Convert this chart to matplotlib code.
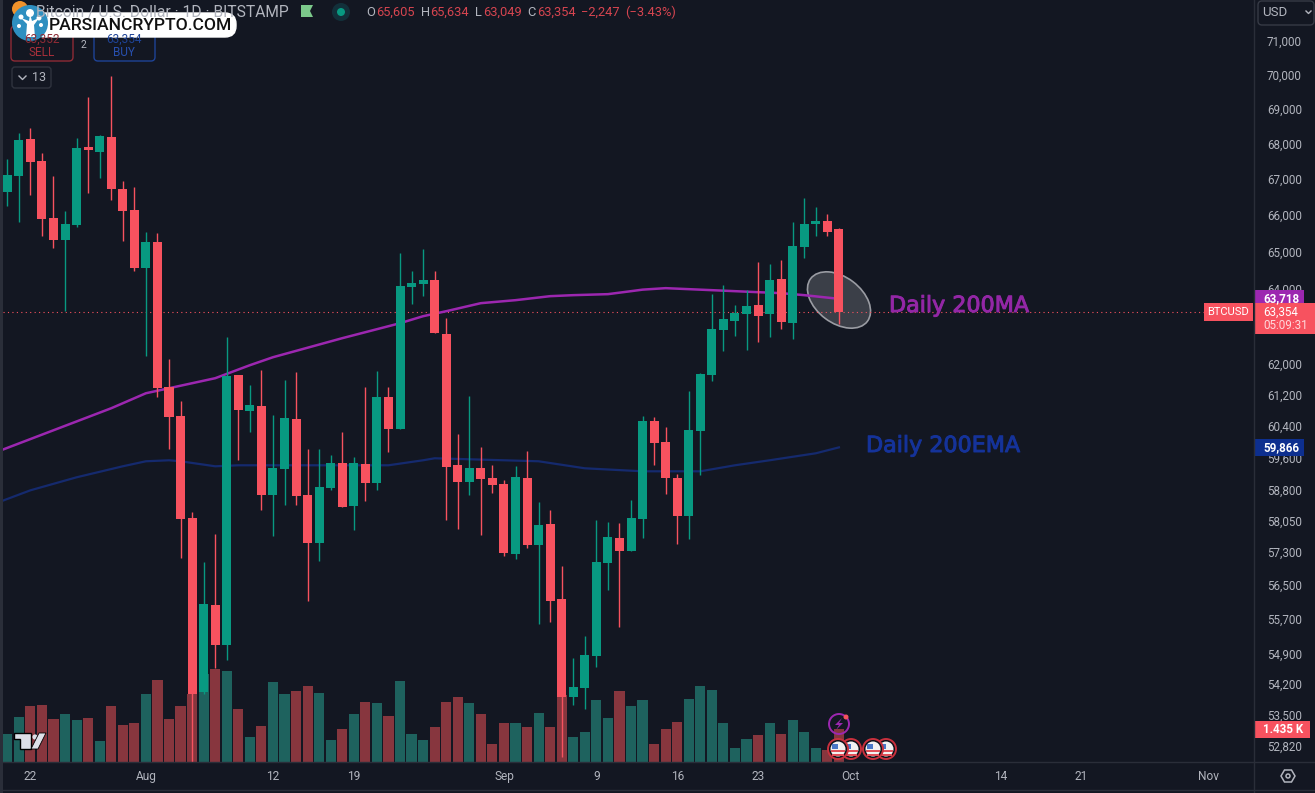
import matplotlib
matplotlib.use('Agg')
import matplotlib.pyplot as plt
import matplotlib.patheffects as pe
from matplotlib.patches import Circle, Ellipse, FancyBboxPatch, Polygon, Rectangle
from matplotlib.transforms import IdentityTransform

plt.rcParams['font.family'] = ['Roboto', 'DejaVu Sans']

# data (BTCUSD daily, 20 Jul - 30 Sep)
opens = [66640, 67090, 68140, 67510, 65910, 65310, 65720, 67910, 67770, 68190, 66720, 66140, 64540,
         65250, 61400, 60650, 58110, 54020, 56030, 55090, 61710, 60780, 60910, 58670, 59320, 60580,
         58670, 57500, 58850, 59470, 58400, 59440, 58970, 61140, 60320, 64030, 64110, 64220, 62780,
         59420, 59000, 59340, 59100, 58950, 57240, 59100, 57460, 57960, 56170, 53900, 54110, 54840,
         57020, 57620, 57310, 58090, 60530, 59990, 59100, 58160, 60270, 61710, 62890, 63120, 63310,
         63550, 63310, 64250, 63070, 65120, 65750, 65830, 65605]
highs = [67570, 68310, 68450, 67740, 67090, 66110, 68170, 69350, 68250, 69960, 66950, 66780, 65530,
         65500, 62120, 61040, 58260, 57050, 57720, 62700, 61710, 61450, 61840, 60680, 61580, 61790,
         59820, 59820, 59670, 60250, 59620, 61400, 61810, 61400, 64950, 64460, 65060, 64460, 63200,
         60200, 61160, 59870, 59420, 59050, 59390, 59770, 58500, 58310, 56970, 54810, 55300, 58060,
         58010, 57990, 58550, 60650, 60630, 60370, 59190, 61290, 61760, 63840, 64080, 63550, 63950,
         64710, 64650, 64760, 65800, 66470, 66220, 66020, 65634]
lows = [66250, 65800, 66550, 65420, 65090, 63390, 65660, 66610, 67030, 66410, 65280, 64460, 62200,
        61140, 59820, 57140, 52450, 53970, 54560, 54750, 59540, 60250, 58310, 57670, 58430, 58430,
        56120, 57090, 58800, 58380, 57820, 58530, 58800, 59740, 60320, 63580, 63790, 62810, 58060,
        57840, 58670, 57700, 58720, 57190, 57120, 57380, 55580, 55630, 52560, 53720, 53630, 54590,
        56380, 55530, 57310, 57620, 59420, 58700, 57480, 57600, 59170, 61550, 62330, 62730, 62360,
        62570, 62700, 62910, 62650, 64820, 65420, 65420, 63049]
closes = [67120, 68110, 67480, 65890, 65310, 65750, 67880, 67820, 68220, 66720, 66110, 64540, 65250,
          61370, 60630, 58090, 53970, 56050, 55090, 61680, 60810, 60930, 58670, 59340, 60600, 58650,
          57500, 58870, 59470, 58380, 59470, 58970, 61140, 60320, 64060, 64140, 64220, 62810, 59370,
          59000, 59340, 59070, 58920, 57260, 59120, 57460, 57940, 56120, 53920, 54130, 54860, 57050,
          57650, 57310, 58110, 60530, 59970, 59100, 58160, 60300, 61730, 62910, 63180, 63340, 63520,
          63250, 64220, 63100, 65140, 65750, 65830, 65530, 63354]
volumes = [1218, 1958, 2436, 2480, 1870, 2088, 1827, 1914, 914, 2436, 1610, 1697, 2958, 3567, 1870,
           2436, 2958, 3828, 4046, 3959, 2306, 1088, 1566, 3480, 2958, 3089, 3306, 3002, 957, 1436,
           2088, 2610, 2567, 2001, 3524, 1218, 957, 1523, 2610, 2828, 2567, 2088, 783, 1697, 1697,
           1523, 2132, 1523, 2915, 1088, 1305, 2697, 1914, 3089, 2436, 2697, 783, 1436, 1740, 2741,
           3306, 3132, 1697, 609, 1001, 1175, 1697, 1218, 1827, 1305, 609, 522, 1435]

ma_days = [-1, 9, 12, 14, 18, 21, 23, 29, 34, 36, 38, 41, 44, 47, 49, 52, 54, 55, 57, 61, 65, 67, 69, 72]
ma_vals = [59743, 60858, 61242, 61371, 61630, 61967, 62175, 62674, 63069, 63255, 63388, 63602,
           63682, 63789, 63816, 63843, 63923, 63964, 64004, 63950, 63896, 63870, 63816, 63718]
ema_days = [-1, 2, 6, 10, 12, 14, 15, 18, 20, 28, 33, 36, 37, 46, 50, 55, 60, 63, 66, 70, 72]
ema_vals = [58477, 58797, 59119, 59393, 59518, 59543, 59518, 59393, 59418, 59418, 59418, 59543,
            59593, 59518, 59343, 59268, 59268, 59418, 59543, 59718, 59866]

price_ticks = [71000, 70000, 69000, 68000, 67000, 66000, 65000, 64000, 62000, 61200, 60400,
               59600, 58800, 58050, 57300, 56500, 55700, 54900, 54200, 53500, 52820]
date_ticks = [2, 12, 23, 30, 43, 51, 58, 65, 73, 86, 93, 104]
date_labels = ['22', 'Aug', '12', '19', 'Sep', '9', '16', '23', 'Oct', '14', '21', 'Nov']

BG = '#131722'
LINE = '#2A2E39'
TXT = '#B2B5BE'
UP = '#089981'
DOWN = '#F7525F'
UP_VOL = '#1E625E'
DOWN_VOL = '#87363E'
W, H = 1315, 793

fig = plt.figure(figsize=(W / 100, H / 100), dpi=100, facecolor=BG)
rect = [3 / W, (H - 762) / H, 1250 / W, 762 / H]

# volume sits on its own axis under the candles
ax_vol = fig.add_axes(rect, facecolor=BG, zorder=0)
ax = fig.add_axes(rect, facecolor='none', zorder=1)

days = list(range(len(closes)))
colors = [UP if c >= o else DOWN for o, c in zip(opens, closes)]
vol_colors = [UP_VOL if c >= o else DOWN_VOL for o, c in zip(opens, closes)]

ax_vol.bar(days, volumes, width=0.88, color=vol_colors)
ax_vol.set_xlim(-0.372, 107.85)
ax_vol.set_ylim(0, 33147)
ax_vol.set_xticks(date_ticks)
ax_vol.set_xticklabels(date_labels, color=TXT, fontsize=8.6)
ax_vol.tick_params(axis='x', length=0, pad=6)
ax_vol.set_yticks([])
for s in ax_vol.spines.values():
    s.set_visible(False)

ax.set_yscale('log')
ax.set_xlim(-0.372, 107.85)
ax.set_ylim(52460, 72233)
ax.minorticks_off()
ax.yaxis.tick_right()
ax.set_yticks(price_ticks)
ax.set_yticklabels([f'{p:,}' for p in price_ticks], color=TXT, fontsize=8.4)
ax.tick_params(axis='y', which='both', length=0, pad=10)
ax.tick_params(axis='x', which='both', length=0, labelbottom=False)
for s in ax.spines.values():
    s.set_visible(False)

ax.axhline(closes[-1], color=DOWN, lw=0.8, ls=(0, (1, 3)), zorder=1.5)
ax.add_patch(Ellipse((839, H - 300), 71, 46, angle=-37, transform=IdentityTransform(),
                     facecolor='#FFFFFF2C', edgecolor='#9A9CA3', lw=1.2, zorder=1))
ax.plot(ma_days, ma_vals, color='#9C27B0', lw=1.8, zorder=2, solid_capstyle='round')
ax.plot(ema_days, ema_vals, color='#152A6E', lw=1.6, zorder=2)

ax.vlines(days, lows, highs, colors=colors, lw=1, zorder=3)
ax.bar(days, [abs(c - o) for o, c in zip(opens, closes)], bottom=[min(o, c) for o, c in zip(opens, closes)],
       width=0.78, color=colors, zorder=4)

# overlay in pixels for the chart furniture
ov = fig.add_axes([0, 0, 1, 1], facecolor='none', zorder=5)
ov.set_xlim(0, W)
ov.set_ylim(H, 0)
ov.axis('off')


def price_y(price):
    return H - ax.transData.transform((0, price))[1]


def tag(price, text, color, right=1304):
    y = price_y(price)
    ov.add_patch(Rectangle((1254, y - 8.5), right - 1254, 17, color=color, lw=0))
    ov.text(1263, y, text, color='white', fontsize=8.4, va='center', ha='left', weight='bold')


def box(x, y, w, h, edge, face='none', r=3, lw=1):
    ov.add_patch(FancyBboxPatch((x + r, y + r), w - 2 * r, h - 2 * r, boxstyle=f'round,pad={r}',
                                edgecolor=edge, facecolor=face, lw=lw))


# frame lines
ov.add_patch(Rectangle((0, 0), 3, 793, color=LINE, lw=0))
ov.plot([1254, 1254], [0, 793], color=LINE, lw=1)
ov.plot([3, W], [762, 762], color=LINE, lw=1)
ov.plot([3, W], [790, 790], color=LINE, lw=1)

# price tags on the right axis
tag(ma_vals[-1], '63,718', '#9C27B0')
y_close = price_y(closes[-1])
ov.add_patch(Rectangle((1254, y_close - 9), 61, 31, color=DOWN, lw=0))
ov.text(1263, y_close, '63,354', color='white', fontsize=8.4, va='center')
ov.text(1263, y_close + 13, '05:09:31', color='#FFD9DC', fontsize=8.4, va='center')
ov.add_patch(Rectangle((1204, y_close - 9), 49, 18, color=DOWN, lw=0))
ov.text(1228.5, y_close, 'BTCUSD', color='white', fontsize=8, va='center', ha='center')
tag(ema_vals[-1], '59,866', '#0D2F8F')
ov.add_patch(Rectangle((1254, 721), 56, 17, color=DOWN, lw=0))
ov.text(1263, 729.5, '1.435 K', color='white', fontsize=8.4, va='center', weight='bold')

# annotations
ov.text(889, 306, 'Daily 200MA', color='#9327A6', fontsize=16, va='center', family='DejaVu Sans',
        path_effects=[pe.withStroke(linewidth=0.7, foreground='#9327A6')])
ov.text(866, 446, 'Daily 200EMA', color='#15339A', fontsize=16, va='center', family='DejaVu Sans',
        path_effects=[pe.withStroke(linewidth=0.7, foreground='#15339A')])

# header
ov.text(36, 12, 'Bitcoin / U.S. Dollar · 1D · BITSTAMP', color=TXT, fontsize=11.25, va='center')
ov.add_patch(Polygon([(301, 5), (313, 5), (310, 11), (313, 17), (301, 17)], color='#7CC98B', lw=0))
ov.add_patch(Circle((341, 12), 9, color='#12303A', lw=0))
ov.add_patch(Circle((341, 12), 4, color='#089981', lw=0))
header_parts = [(366, 'O', TXT), (376, '65,605', '#D64550'), (421, 'H', TXT), (430, '65,634', '#D64550'),
                (475, 'L', TXT), (483, '63,049', '#D64550'), (527, 'C', TXT), (537, '63,354', '#D64550'),
                (581, '\u22122,247', '#D64550'), (625, '(\u22123.43%)', '#D64550')]
for x, s, c in header_parts:
    ov.text(x, 12, s, color=c, fontsize=9.3, va='center')

# order buttons and collapse box
box(11, 26, 62, 35, '#8E2B35', r=4)
box(94, 26, 61, 35, '#1E4396', r=4)
ov.text(42, 39, '63,352', color='#8E2B35', fontsize=8.5, ha='center', va='center')
ov.text(42, 52, 'SELL', color='#A62F3A', fontsize=8.5, ha='center', va='center')
ov.text(83, 45, '2', color=TXT, fontsize=7.5, ha='center', va='center')
ov.text(124, 39, '63,354', color='#1E4396', fontsize=8.5, ha='center', va='center')
ov.text(124, 52, 'BUY', color='#2850B0', fontsize=8.5, ha='center', va='center')
box(12, 67, 39, 21, '#2F333E', r=3)
ov.plot([19, 22.5, 26], [76, 79.5, 76], color=TXT, lw=1)
ov.text(39, 77.5, '13', color=TXT, fontsize=9, ha='center', va='center')

# watermark pill
ov.add_patch(Circle((20, 9), 8, color='#F0922B', lw=0))
box(34, 13, 202, 24, 'white', face='white', r=11)
ov.text(140, 25.5, 'PARSIANCRYPTO.COM', color='#111111', fontsize=12.6, ha='center', va='center', weight='medium')
ov.add_patch(Circle((30, 23), 18, color='#2E8FC0', lw=0))
ov.add_patch(Polygon([(26, 37), (27, 24), (21, 18), (29, 21), (30, 14), (32, 21), (39, 18), (34, 25), (35, 37)],
                     color='white', lw=0))
for cx, cy, r in [(30, 13, 4), (21, 17, 2.5), (39, 18, 2.5), (19, 26, 2), (41, 25, 2)]:
    ov.add_patch(Circle((cx, cy), r, color='white', lw=0))

# tradingview mark
ov.add_patch(Polygon([(14, 733), (31, 733), (31, 749), (20, 749), (20, 739), (14, 739)], color='#DDE0E8', ec='black', lw=1))
ov.add_patch(Circle((35, 737), 2.6, color='#DDE0E8', lw=0))
ov.add_patch(Polygon([(39, 733), (46, 733), (38, 749), (31, 749)], color='#DDE0E8', ec='black', lw=0.6))

# event icons
ov.add_patch(Circle((839, 724), 10, facecolor='none', edgecolor='#9C27B0', lw=1.4))
ov.add_patch(Polygon([(842, 718), (835, 725), (839, 725), (836, 730), (843, 723), (839, 723)], color='#9C27B0', lw=0))
ov.add_patch(Circle((846, 717), 2.5, color=DOWN, lw=0))
for cx in [851, 838, 886, 873]:
    ov.add_patch(Circle((cx, 749), 10, facecolor='#0E1119', edgecolor='#C8303D', lw=1.4))
    ov.add_patch(Circle((cx, 749), 7.5, color='#F2F2F2', lw=0))
    ov.add_patch(Rectangle((cx - 7, 750), 14, 2, color='#E0505A', lw=0))
    ov.add_patch(Rectangle((cx - 6, 754), 12, 1.6, color='#E0505A', lw=0))
    ov.add_patch(Rectangle((cx - 6, 743.5), 6, 5, color='#4A78C8', lw=0))

# top right currency box and gear
box(1258, 1, 56, 24, '#363A45', r=4)
ov.text(1262, 12, 'USD', color=TXT, fontsize=9.5, va='center')
ov.plot([1306, 1308.5, 1311], [11, 13.5, 11], color=TXT, lw=1)
ov.add_patch(Polygon([(1281, 776), (1284.5, 770), (1291.5, 770), (1295, 776), (1291.5, 782), (1284.5, 782)],
                     facecolor='none', edgecolor=TXT, lw=1.1))
ov.add_patch(Circle((1288, 776), 2, facecolor='none', edgecolor=TXT, lw=1.1))

fig.savefig('out.png', dpi=100, facecolor=BG)
